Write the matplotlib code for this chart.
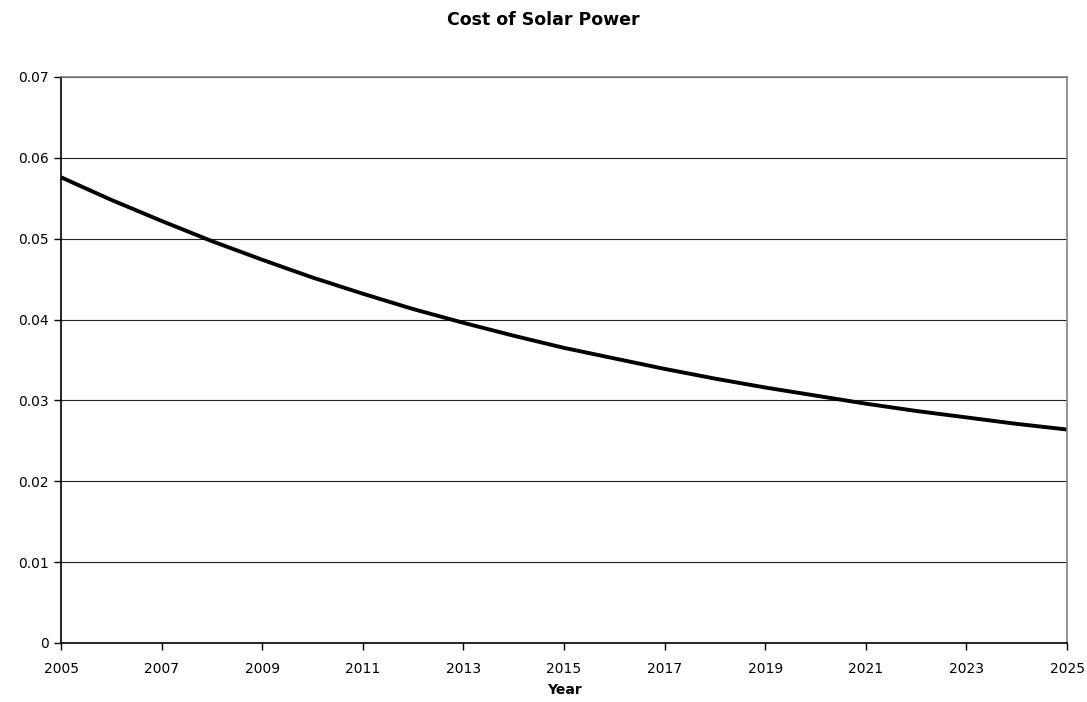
import matplotlib.pyplot as plt
import numpy as np

# 太陽光発電コストのデータ
years = [2005, 2006, 2007, 2008, 2009, 2010, 2011, 2012, 2013, 2014, 2015,
         2016, 2017, 2018, 2019, 2020, 2021, 2022, 2023, 2024, 2025]
cost = [0.0576, 0.0548, 0.0522, 0.0497, 0.0474, 0.0452, 0.0432, 0.0413, 0.0396, 0.0380, 0.0365,
        0.0352, 0.0339, 0.0327, 0.0316, 0.0306, 0.0296, 0.0287, 0.0279, 0.0271, 0.0264]
y_ticks = [0, 0.01, 0.02, 0.03, 0.04, 0.05, 0.06, 0.07]
y_tick_labels = ['0', '0.01', '0.02', '0.03', '0.04', '0.05', '0.06', '0.07']
x_ticks = list(range(2005, 2026, 2))

plt.rcParams['font.family'] = ['DejaVu Sans']

fig = plt.figure(figsize=(10.87, 7.02), dpi=100)
ax = fig.add_axes([61 / 1087, 1 - 643 / 702, (1067 - 61) / 1087, (643 - 77) / 702])

ax.plot(years, cost, color='black', linewidth=2.8, solid_capstyle='butt')

ax.set_xlim(2005, 2025)
ax.set_ylim(0, 0.07)
ax.set_xticks(x_ticks)
ax.set_xticklabels([str(x) for x in x_ticks], fontsize=10)
ax.set_yticks(y_ticks)
ax.set_yticklabels(y_tick_labels, fontsize=10)
ax.tick_params(axis='y', direction='out', length=5, width=1, color='black', pad=4)
ax.tick_params(axis='x', direction='out', length=5, width=1, color='black', pad=9)

ax.grid(True, axis='y', color='#202020', linewidth=0.8)
ax.set_axisbelow(True)
for side in ['left', 'bottom']:
    ax.spines[side].set_color('black')
    ax.spines[side].set_linewidth(1.2)
for side in ['top', 'right']:
    ax.spines[side].set_color('#808080')
    ax.spines[side].set_linewidth(1.2)

ax.set_xlabel('Year', fontsize=10, fontweight='bold', labelpad=5)
fig.text(0.5, 1 - 20 / 702, 'Cost of Solar Power', ha='center', va='center',
         fontsize=12.5, fontweight='bold')

plt.savefig('out.png', dpi=100)
